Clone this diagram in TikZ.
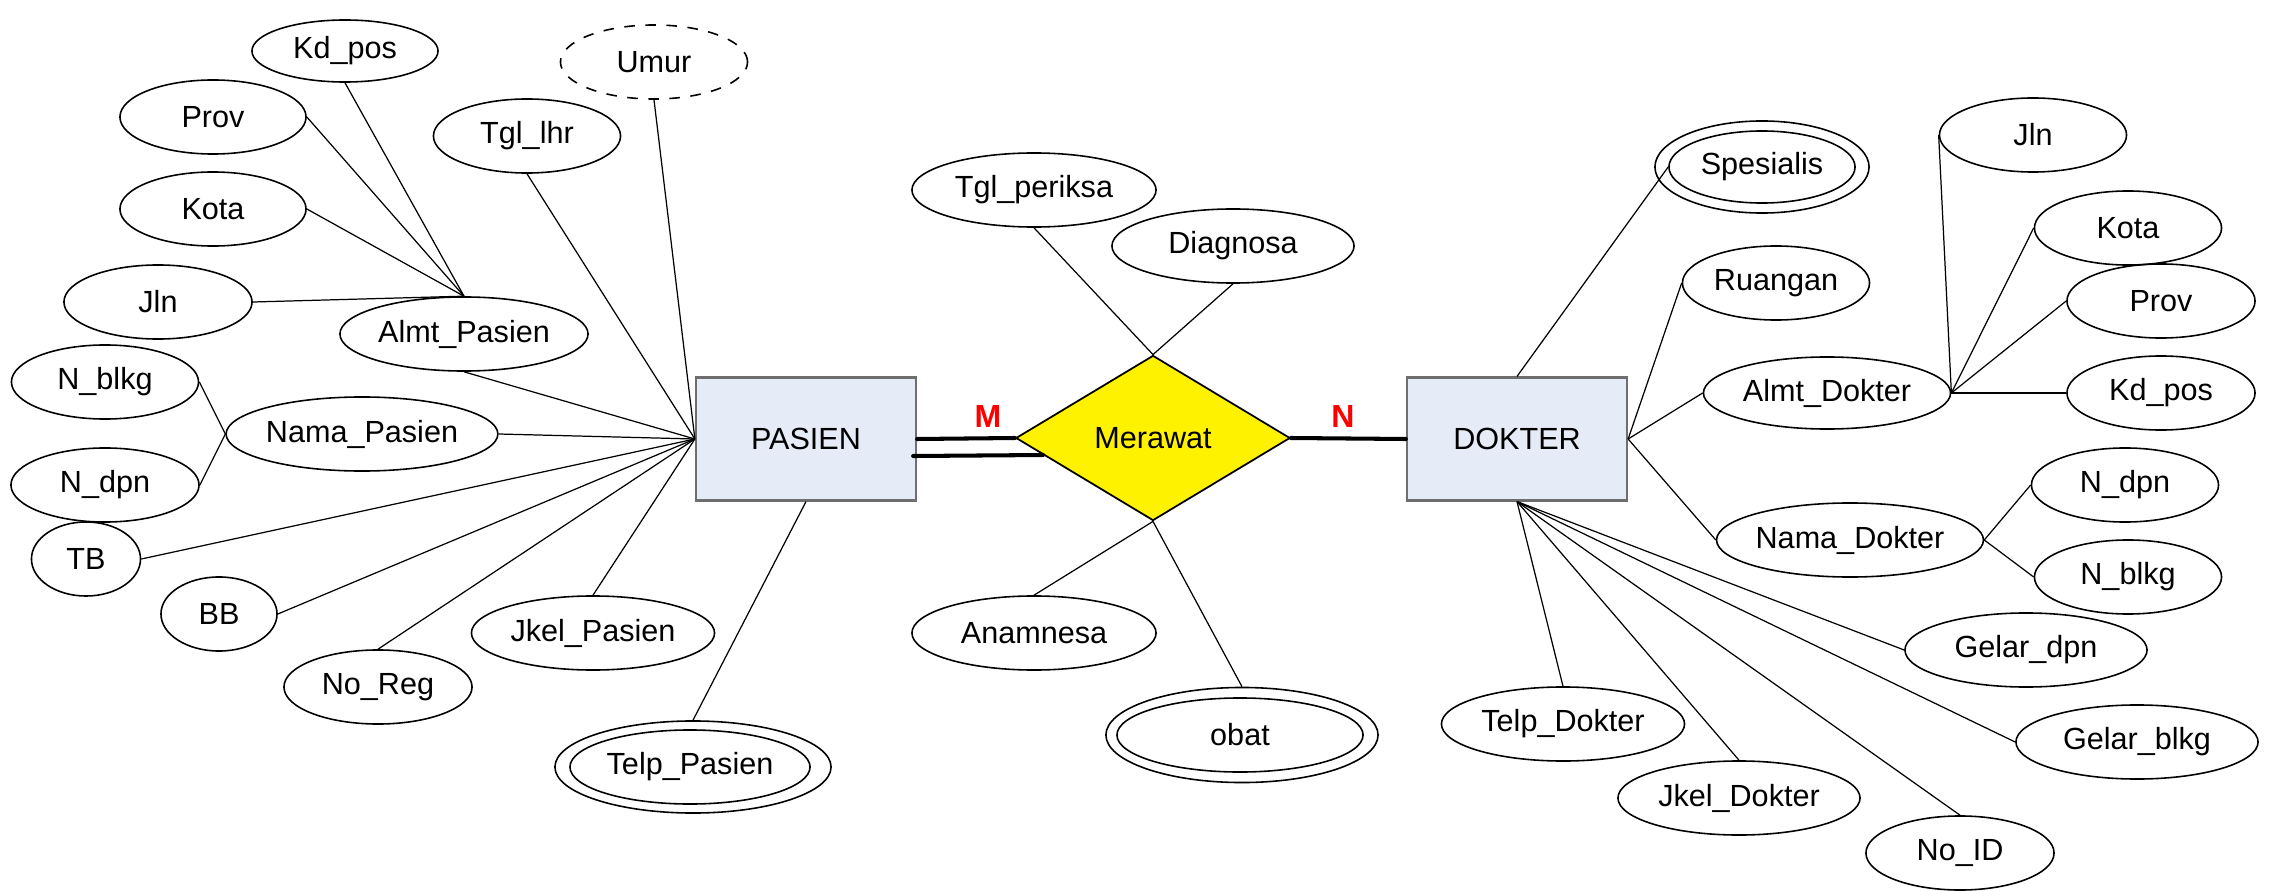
\documentclass[tikz,border=0pt]{standalone}
\usepackage{fontspec}
\setmainfont{Liberation Sans}
\usetikzlibrary{shapes.geometric}
\definecolor{entfill}{RGB}{229,235,247}
\definecolor{entline}{RGB}{110,110,110}
\definecolor{cardred}{RGB}{255,0,0}
\begin{document}
\begin{tikzpicture}[x=0.01cm,y=-0.01cm,
 font=\fontsize{8.7}{10}\selectfont,
 attr/.style={ellipse,draw,line width=0.45pt,inner sep=0pt,minimum height=0.74cm},
 ent/.style={rectangle,draw=entline,line width=0.6pt,fill=entfill,minimum width=2.2cm,minimum height=1.23cm,inner sep=0pt},
 rel/.style={diamond,draw,fill=yellow,line width=0.5pt,minimum width=2.74cm,minimum height=1.65cm,inner sep=0pt},
 conn/.style={line width=0.35pt},
 heavy/.style={line width=1.15pt,line cap=round},
 card/.style={text=cardred,font=\fontsize{9.1}{10}\selectfont\bfseries}
]
\useasboundingbox (0,0) rectangle (2272,891);

% entities and relationship
\node[ent] (pasien) at (806,439) {PASIEN};
\node[ent] (dokter) at (1517,439) {DOKTER};
\node[rel] (merawat) at (1153,438) {Merawat};

% PASIEN attributes
\node[attr,minimum width=1.86cm,minimum height=0.62cm] (kdpos) at (345,51) {Kd\_pos};
\node[attr,dashed,minimum width=1.87cm] (umur) at (654,62) {Umur};
\node[attr,minimum width=1.86cm] (prov) at (213,117) {Prov};
\node[attr,minimum width=1.87cm] (tgllhr) at (527,136) {Tgl\_lhr};
\node[attr,minimum width=1.86cm] (kota) at (213,209) {Kota};
\node[attr,minimum width=1.88cm] (jlnp) at (158,302) {Jln};
\node[attr,minimum width=2.48cm] (almtp) at (464,334) {Almt\_Pasien};
\node[attr,minimum width=1.87cm] (nblkgp) at (105,382) {N\_blkg};
\node[attr,minimum width=2.59cm] (namap) at (362,434) {Nama\_Pasien};
\node[attr,minimum width=1.88cm] (ndpnp) at (105,485) {N\_dpn};
\node[attr,minimum width=1.09cm] (tb) at (86,559) {TB};
\node[attr,minimum width=1.16cm] (bb) at (219,614) {BB};
\node[attr,minimum width=1.88cm] (noreg) at (378,687) {No\_Reg};
\node[attr,minimum width=2.43cm] (jkelp) at (593,633) {Jkel\_Pasien};
\node[attr,minimum width=2.76cm,minimum height=0.92cm] (telpo) at (693,767) {};
\node[attr,minimum width=2.40cm] (telp) at (690,767) {Telp\_Pasien};

% relationship attributes
\node[attr,minimum width=2.44cm] (tglp) at (1034,190) {Tgl\_periksa};
\node[attr,minimum width=2.42cm] (diag) at (1233,246) {Diagnosa};
\node[attr,minimum width=2.44cm] (anam) at (1034,633) {Anamnesa};
\node[attr,minimum width=2.72cm,minimum height=0.95cm] (obato) at (1242,735) {};
\node[attr,minimum width=2.46cm] (obat) at (1240,735) {obat};

% DOKTER attributes
\node[attr,minimum width=2.14cm,minimum height=0.92cm] (speso) at (1762,167) {};
\node[attr,minimum width=1.86cm,minimum height=0.72cm] (spes) at (1762,167) {Spesialis};
\node[attr,minimum width=1.87cm] (ruang) at (1776,283) {Ruangan};
\node[attr,minimum width=2.47cm,minimum height=0.72cm] (almtd) at (1827,393) {Almt\_Dokter};
\node[attr,minimum width=2.59cm] (namad) at (1850,540) {Nama\_Dokter};
\node[attr,minimum width=1.87cm] (jlnd) at (2033,135) {Jln};
\node[attr,minimum width=1.87cm] (kotad) at (2128,228) {Kota};
\node[attr,minimum width=1.88cm] (provd) at (2161,301) {Prov};
\node[attr,minimum width=1.88cm] (kdposd) at (2161,393) {Kd\_pos};
\node[attr,minimum width=1.87cm] (ndpnd) at (2125,485) {N\_dpn};
\node[attr,minimum width=1.87cm] (nblkgd) at (2128,577) {N\_blkg};
\node[attr,minimum width=2.42cm] (gelard) at (2026,650) {Gelar\_dpn};
\node[attr,minimum width=2.42cm] (gelarb) at (2137,742) {Gelar\_blkg};
\node[attr,minimum width=2.43cm] (telpd) at (1563,724) {Telp\_Dokter};
\node[attr,minimum width=2.42cm] (jkeld) at (1739,798) {Jkel\_Dokter};
\node[attr,minimum width=1.88cm] (noid) at (1960,853) {No\_ID};

% cardinality labels
\node[card] (mlab) at (988,416) {M};
\node[card] (nlab) at (1343,416) {N};

% relationship lines
\draw[heavy] (pasien.east) -- (merawat.west);
\draw[heavy] ([xshift=-0.04cm,yshift=-0.17cm]pasien.east) -- ([xshift=0.28cm,yshift=-0.17cm]merawat.west);
\draw[heavy] (merawat.east) -- (dokter.west);

% PASIEN connectors
\draw[conn] (kdpos.south) -- (almtp.north);
\draw[conn] (prov.east) -- (almtp.north);
\draw[conn] (kota.east) -- (almtp.north);
\draw[conn] (jlnp.east) -- (almtp.north);
\draw[conn] (almtp.south) -- (pasien.west);
\draw[conn] (tgllhr.south) -- (pasien.west);
\draw[conn] (umur.south) -- (pasien.west);
\draw[conn] (nblkgp.east) -- (namap.west);
\draw[conn] (ndpnp.east) -- (namap.west);
\draw[conn] (namap.east) -- (pasien.west);
\draw[conn] (tb.east) -- (pasien.west);
\draw[conn] (bb.east) -- (pasien.west);
\draw[conn] (noreg.north) -- (pasien.west);
\draw[conn] (jkelp.north) -- (pasien.west);
\draw[conn] (telpo.north) -- (pasien.south);

% relationship attribute connectors
\draw[conn] (tglp.south) -- (merawat.north);
\draw[conn] (diag.south) -- (merawat.north);
\draw[conn] (anam.north) -- (merawat.south);
\draw[conn] (obato.north) -- (merawat.south);

% DOKTER connectors
\draw[conn] (spes.west) -- (dokter.north);
\draw[conn] (ruang.west) -- (dokter.east);
\draw[conn] (almtd.west) -- (dokter.east);
\draw[conn] (namad.west) -- (dokter.east);
\draw[conn] (almtd.east) -- (jlnd.west);
\draw[conn] (almtd.east) -- (kotad.west);
\draw[conn] (almtd.east) -- (provd.west);
\draw[conn] (almtd.east) -- (kdposd.west);
\draw[conn] (namad.east) -- (ndpnd.west);
\draw[conn] (namad.east) -- (nblkgd.west);
\draw[conn] (dokter.south) -- (telpd.north);
\draw[conn] (dokter.south) -- (jkeld.north);
\draw[conn] (dokter.south) -- (noid.north);
\draw[conn] (dokter.south) -- (gelard.west);
\draw[conn] (dokter.south) -- (gelarb.west);
\end{tikzpicture}
\end{document}
